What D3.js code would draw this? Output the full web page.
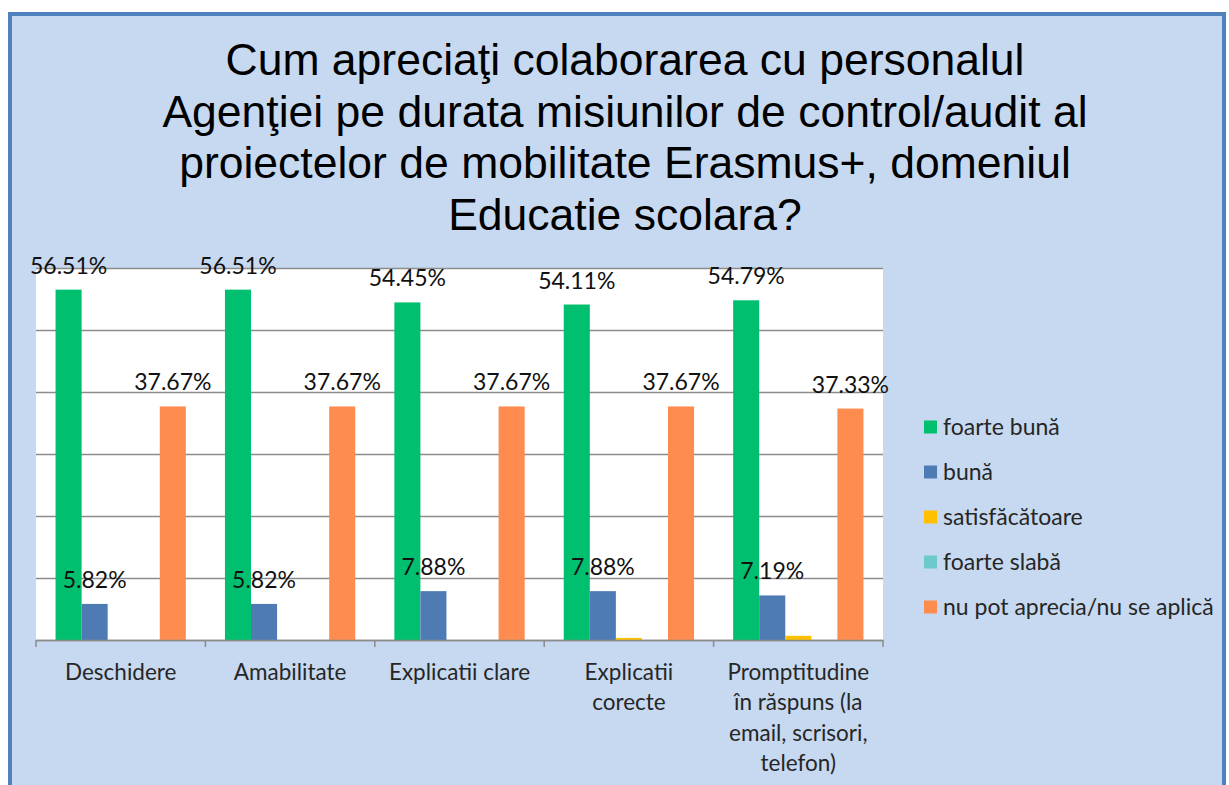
<!DOCTYPE html>
<html>
<head>
<meta charset="utf-8">
<script src="https://cdn.jsdelivr.net/npm/d3@7"></script>
<style>
  body { margin: 0; background: #fff; }
  svg { display: block; }
</style>
</head>
<body>
<svg width="1229" height="785"></svg>
<script>
const svg = d3.select('svg');

// data
const titleLines = [
  'Cum apreciaţi colaborarea cu personalul',
  'Agenţiei pe durata misiunilor de control/audit al',
  'proiectelor de mobilitate Erasmus+, domeniul',
  'Educatie scolara?'
];
const categories = [
  'Deschidere',
  'Amabilitate',
  'Explicatii clare',
  'Explicatii\ncorecte',
  'Promptitudine\nîn răspuns (la\nemail, scrisori,\ntelefon)'
];
const seriesNames = ['foarte bună', 'bună', 'satisfăcătoare', 'foarte slabă', 'nu pot aprecia/nu se aplică'];
const seriesColors = ['#00BF6F', '#4F7BB5', '#FFC000', '#6CC9CC', '#FF8C4F'];
const foarteBuna = [56.51, 56.51, 54.45, 54.11, 54.79];
const buna = [5.82, 5.82, 7.88, 7.88, 7.19];
const satisfacatoare = [0, 0, 0, 0.34, 0.68];
const foarteSlaba = [0, 0, 0, 0, 0];
const nuPotAprecia = [37.67, 37.67, 37.67, 37.67, 37.33];
const yTicks = [0, 10, 20, 30, 40, 50, 60];

const seriesValues = [foarteBuna, buna, satisfacatoare, foarteSlaba, nuPotAprecia];
const color = d3.scaleOrdinal().domain(seriesNames).range(seriesColors);

const labelFont = 'Lato, "Open Sans", sans-serif';

// background + border
svg.append('rect')
  .attr('x', 10).attr('y', 14)
  .attr('width', 1214).attr('height', 790)
  .attr('fill', '#C6D9F0')
  .attr('stroke', '#4F81BD')
  .attr('stroke-width', 4);

// title
const title = svg.append('text')
  .attr('text-anchor', 'middle')
  .attr('font-family', '"Liberation Sans", Arial, sans-serif')
  .attr('font-size', 44.5)
  .attr('fill', '#000');
titleLines.forEach((t, i) => {
  title.append('tspan')
    .attr('x', 625)
    .attr('y', 75 + i * 51.7)
    .text(t);
});

// plot area
const plot = { left: 36, right: 883, top: 268, bottom: 640 };

const x0 = d3.scaleBand()
  .domain(categories)
  .range([plot.left, plot.right])
  .padding(0);

const x1 = d3.scaleBand()
  .domain(seriesNames)
  .range([0, x0.bandwidth()])
  .paddingInner(0)
  .paddingOuter(0.75);

const y = d3.scaleLinear()
  .domain([0, 60])
  .range([plot.bottom, plot.top]);

svg.append('rect')
  .attr('x', plot.left).attr('y', plot.top)
  .attr('width', plot.right - plot.left)
  .attr('height', plot.bottom - plot.top)
  .attr('fill', '#fff');

// gridlines
const grid = svg.append('g')
  .attr('transform', `translate(${plot.left},0)`)
  .call(d3.axisLeft(y).tickValues(yTicks).tickSize(-(plot.right - plot.left)).tickFormat(''));
grid.select('.domain').remove();
grid.selectAll('line').attr('stroke', '#8C8C8C').attr('stroke-width', 1.5);

// bars
const rows = [];
categories.forEach((c, ci) => {
  seriesNames.forEach((s, si) => {
    rows.push({ cat: c, series: s, value: seriesValues[si][ci] });
  });
});

svg.append('g')
  .selectAll('rect')
  .data(rows.filter(d => d.value > 0))
  .enter()
  .append('rect')
  .attr('x', d => x0(d.cat) + x1(d.series))
  .attr('y', d => y(d.value))
  .attr('width', x1.bandwidth())
  .attr('height', d => y(0) - y(d.value))
  .attr('fill', d => color(d.series));

// value labels
svg.append('g')
  .selectAll('text')
  .data(rows.filter(d => d.value >= 1))
  .enter()
  .append('text')
  .attr('x', d => x0(d.cat) + x1(d.series) + x1.bandwidth() / 2)
  .attr('y', d => y(d.value) - 24)
  .attr('dy', '0.35em')
  .attr('text-anchor', 'middle')
  .attr('font-family', labelFont)
  .attr('font-size', 23)
  .attr('fill', '#111')
  .text(d => d.value.toFixed(2) + '%');

// x axis
const xAxisG = svg.append('g')
  .attr('transform', `translate(0,${plot.bottom})`)
  .call(d3.axisBottom(x0).tickSize(0).tickFormat(''));
xAxisG.select('.domain').attr('stroke', '#8C8C8C').attr('stroke-width', 1.5);

const bounds = [plot.left].concat(categories.map(c => x0(c) + x0.bandwidth()));
xAxisG.selectAll('.bound')
  .data(bounds)
  .enter()
  .append('line')
  .attr('x1', d => d).attr('x2', d => d)
  .attr('y1', 0).attr('y2', 7)
  .attr('stroke', '#8C8C8C')
  .attr('stroke-width', 1.5);

const catLabels = svg.append('g')
  .selectAll('text')
  .data(categories)
  .enter()
  .append('text')
  .attr('text-anchor', 'middle')
  .attr('font-family', labelFont)
  .attr('font-size', 22.5)
  .attr('fill', '#262626');
catLabels.each(function (d) {
  const t = d3.select(this);
  d.split('\n').forEach((line, i) => {
    t.append('tspan')
      .attr('x', x0(d) + x0.bandwidth() / 2)
      .attr('y', 672 + i * 30.5)
      .attr('dy', '0.35em')
      .text(line);
  });
});

// legend
const legendG = svg.append('g')
  .attr('transform', 'translate(924, 427)');
seriesNames.forEach((s, i) => {
  legendG.append('rect')
    .attr('x', 0)
    .attr('y', i * 45 - 6.5)
    .attr('width', 13)
    .attr('height', 13)
    .attr('fill', color(s));
  legendG.append('text')
    .attr('x', 19)
    .attr('y', i * 45)
    .attr('dy', '0.35em')
    .attr('font-family', labelFont)
    .attr('font-size', 23)
    .attr('fill', '#262626')
    .text(s);
});
</script>
</body>
</html>
